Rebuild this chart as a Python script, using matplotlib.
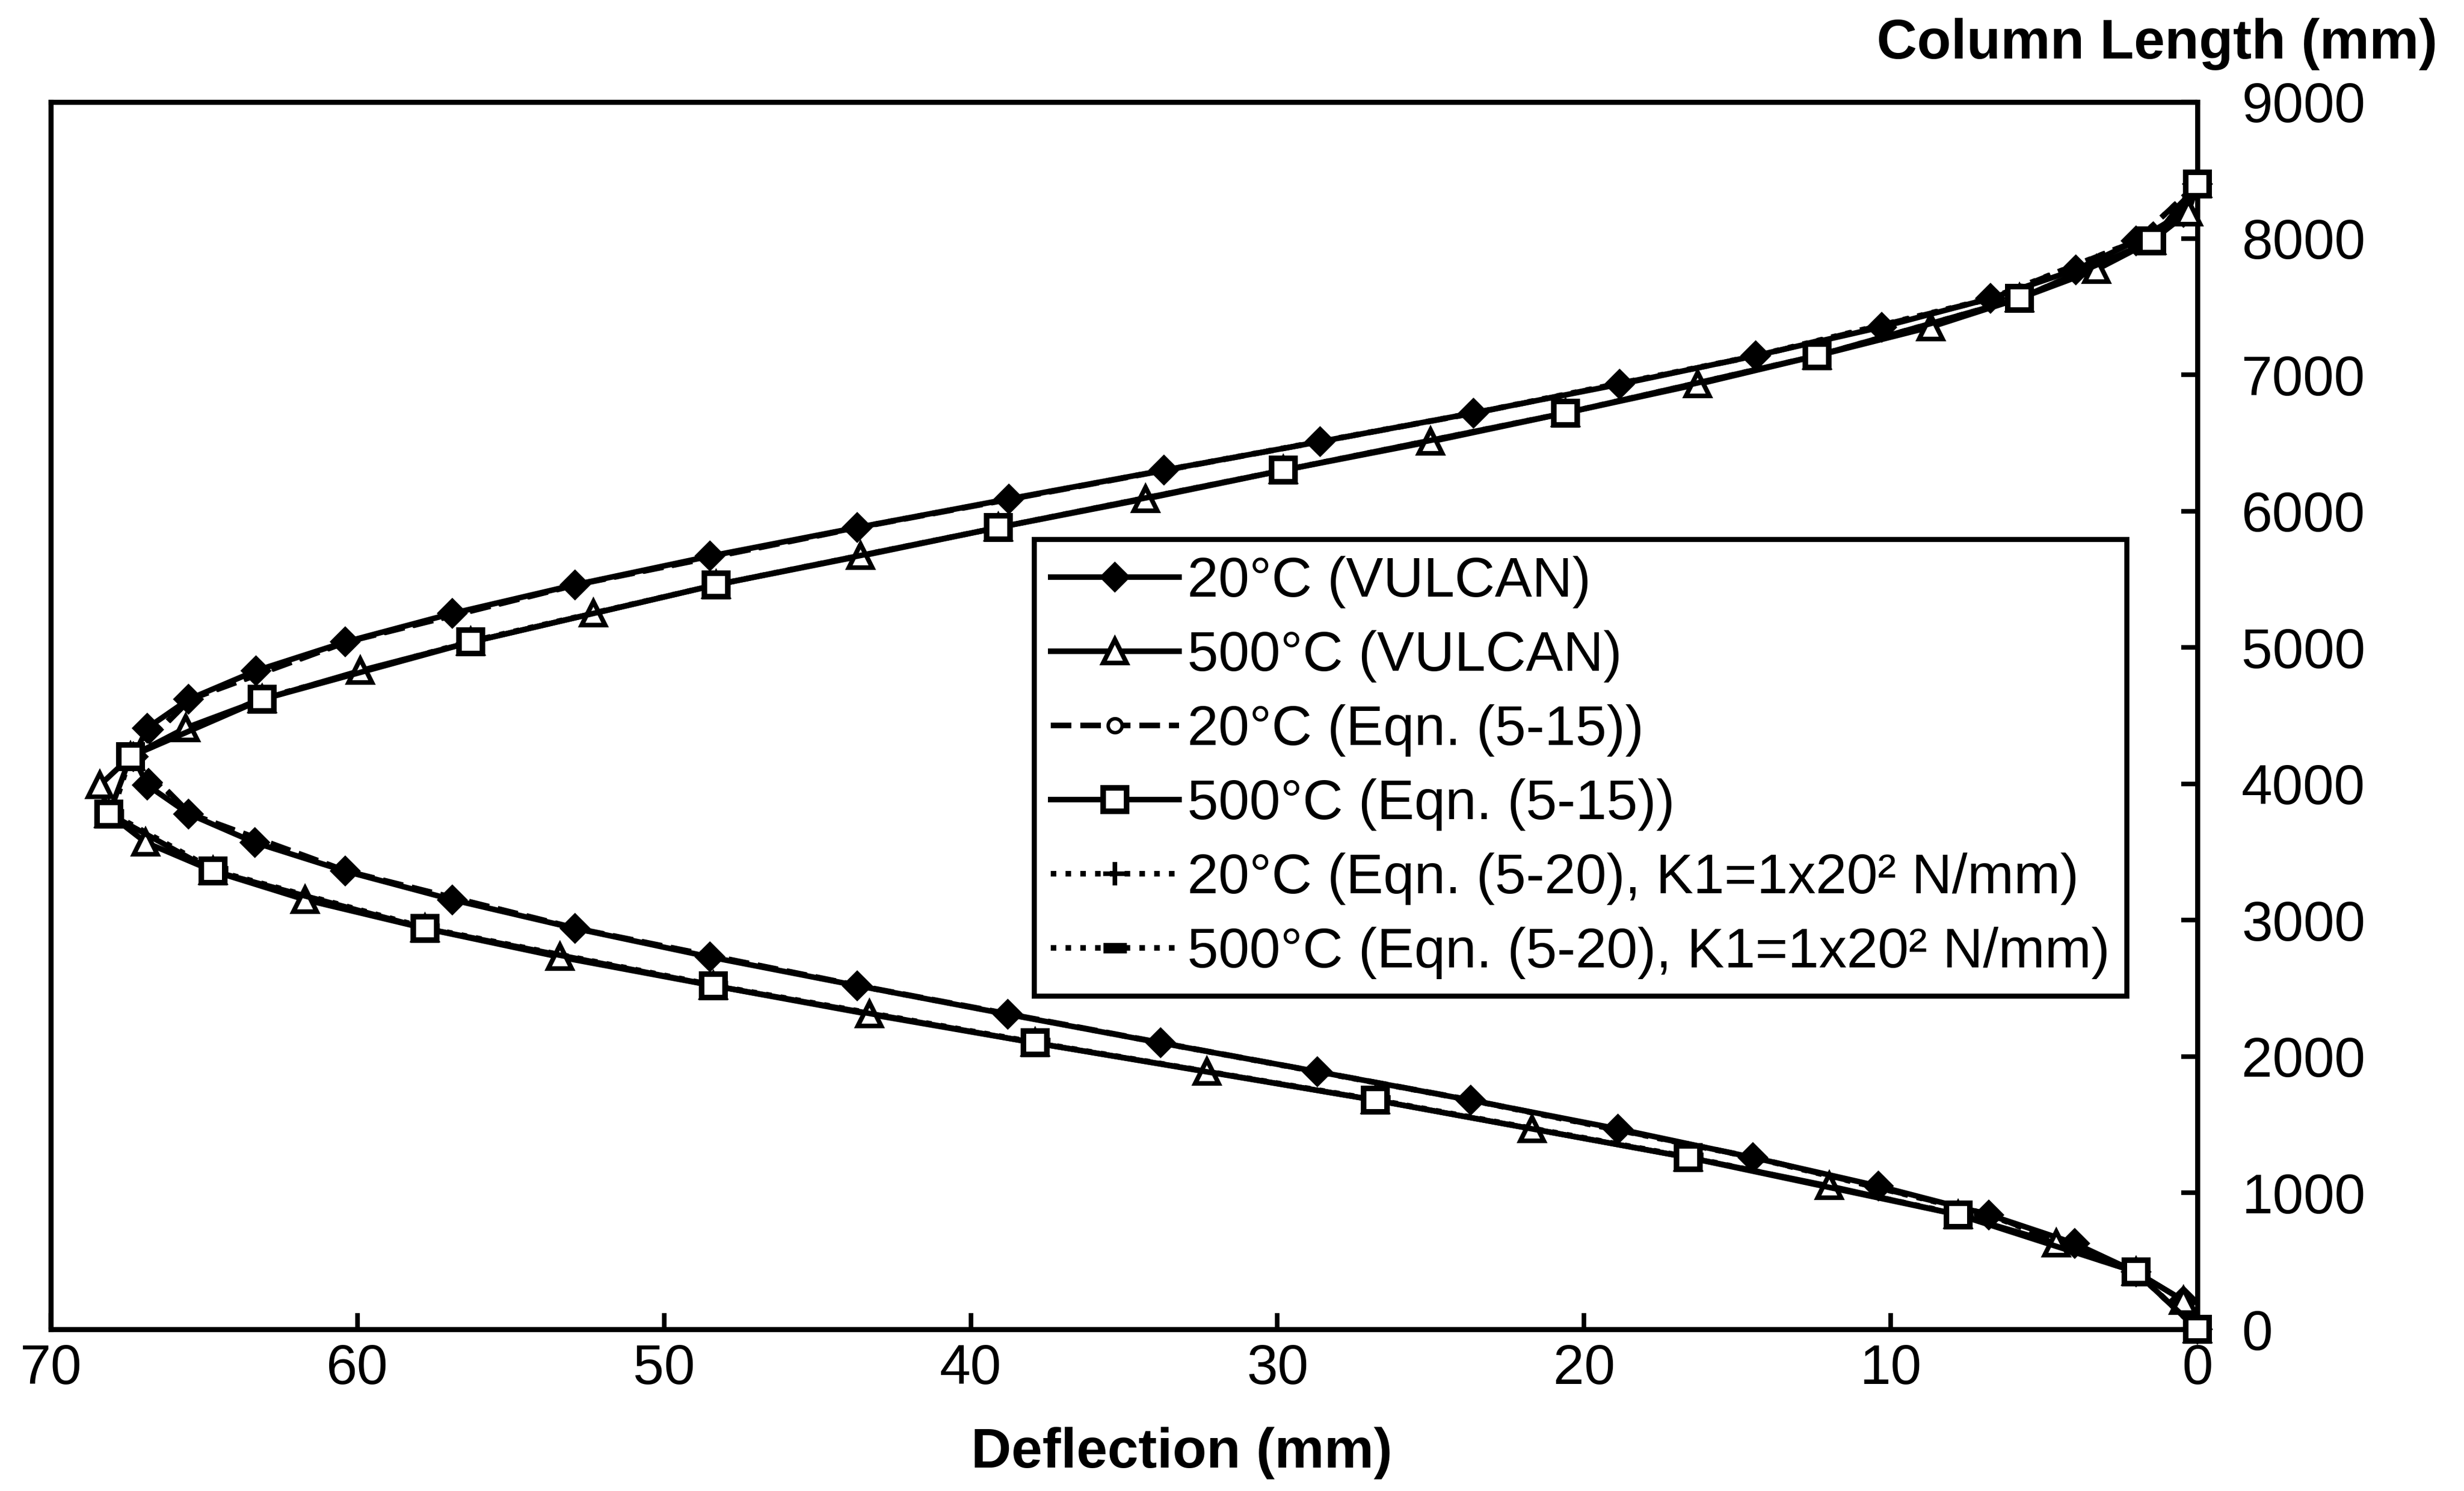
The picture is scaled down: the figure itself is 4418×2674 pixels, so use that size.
import matplotlib
matplotlib.use("Agg")
import matplotlib.pyplot as plt

plt.rcParams['font.family'] = ['Liberation Sans', 'DejaVu Sans']

# Column height (mm) for the VULCAN results, one point every 210 mm
height_vulcan = [0, 210, 420, 630, 840, 1050, 1260, 1470, 1680, 1890, 2100,
                 2310, 2520, 2730, 2940, 3150, 3360, 3570, 3780, 3990, 4200,
                 4410, 4620, 4830, 5040, 5250, 5460, 5670, 5880, 6090, 6300,
                 6510, 6720, 6930, 7140, 7350, 7560, 7770, 7980, 8190, 8400]

# Lateral deflection (mm)
defl_20_vulcan = [0, 0.45, 2.0, 4.0, 6.8, 10.4, 14.5, 18.9, 23.7, 28.7, 33.8,
                  38.8, 43.7, 48.5, 52.9, 56.9, 60.4, 63.35, 65.5, 66.85, 67.3,
                  66.85, 65.5, 63.3, 60.4, 56.9, 52.9, 48.5, 43.7, 38.75, 33.7,
                  28.6, 23.6, 18.85, 14.4, 10.3, 6.75, 3.97, 2.0, 0.45, 0]

defl_500_vulcan = [0, 0.45, 2.0, 4.6, 7.8, 12.0, 16.6, 21.7, 26.8, 32.3, 37.9,
                   43.3, 48.4, 53.4, 57.8, 61.7, 64.7, 66.9, 68.1, 68.4, 67.4,
                   65.6, 63.1, 59.9, 56.3, 52.3, 48.3, 43.6, 39.1, 34.3, 29.8,
                   25.0, 20.6, 16.3, 12.4, 8.7, 5.8, 3.3, 1.5, 0.3, 0]

# Closed-form results, one point every 420 mm
height_eqn = [0, 420, 840, 1260, 1680, 2100, 2520, 2940, 3360, 3780, 4200,
              4620, 5040, 5460, 5880, 6300, 6720, 7140, 7560, 7980, 8400]

defl_20_eqn15 = [0, 2.0, 6.75, 14.45, 23.65, 33.75, 43.65, 52.85, 60.35, 65.45, 67.3,
                 65.45, 60.35, 52.85, 43.65, 33.65, 23.55, 14.35, 6.7, 2.0, 0]

defl_500_eqn15 = [0, 2.0, 7.8, 16.6, 26.8, 37.9, 48.4, 57.8, 64.7, 68.1, 67.4,
                  63.1, 56.3, 48.3, 39.1, 29.8, 20.6, 12.4, 5.8, 1.5, 0]

defl_20_eqn20 = [0, 2.0, 6.8, 14.5, 23.7, 33.8, 43.7, 52.9, 60.4, 65.5, 67.3,
                 65.5, 60.4, 52.9, 43.7, 33.7, 23.6, 14.4, 6.75, 2.0, 0]

defl_500_eqn20 = [0, 2.0, 7.7, 16.5, 26.7, 37.8, 48.3, 57.7, 64.6, 68.0, 67.4,
                  63.2, 56.4, 48.3, 39.1, 29.8, 20.6, 12.4, 5.8, 1.5, 0]

labels = ["20°C (VULCAN)",
          "500°C (VULCAN)",
          "20°C (Eqn. (5-15))",
          "500°C (Eqn. (5-15))",
          "20°C (Eqn. (5-20), K1=1x20² N/mm)",
          "500°C (Eqn. (5-20), K1=1x20² N/mm)"]

W, H = 4418, 2674
fig = plt.figure(figsize=(W / 300, H / 300), dpi=300)
ax = fig.add_axes([91 / W, 1 - 2384 / H, (3940 - 91) / W, (2384 - 183) / H])

lw = 2.4
common = dict(color='black', clip_on=False, linewidth=lw)

l5, = ax.plot(defl_20_eqn20, height_eqn, linestyle=':', marker='+',
              markersize=10, markeredgewidth=2, zorder=2, **common)
l6, = ax.plot(defl_500_eqn20, height_eqn, linestyle=':', marker='_',
              markersize=10, markeredgewidth=4.5, zorder=2, **common)
l3, = ax.plot(defl_20_eqn15, height_eqn, linestyle='--', marker='o',
              markersize=6, markerfacecolor='white', markeredgewidth=1.5,
              zorder=2.5, **common)
l1, = ax.plot(defl_20_vulcan, height_vulcan, linestyle='-', marker='D',
              markersize=8.5, markerfacecolor='black', zorder=3, **common)
l2, = ax.plot(defl_500_vulcan, height_vulcan, linestyle='-', marker='^',
              markersize=10, markerfacecolor='white', markeredgewidth=2,
              zorder=3, **common)
l4, = ax.plot(defl_500_eqn15, height_eqn, linestyle='-', marker='s',
              markersize=10, markerfacecolor='white', markeredgewidth=2.4,
              zorder=3.2, **common)

ax.set_xlim(70, 0)
ax.set_ylim(0, 9000)
ax.set_xticks([70, 60, 50, 40, 30, 20, 10, 0])
ax.set_yticks(range(0, 9001, 1000))
ax.yaxis.tick_right()
ax.tick_params(axis='both', direction='in', length=7, width=2,
               labelsize=24, color='black')
ax.tick_params(axis='x', pad=6)
ax.tick_params(axis='y', pad=19)
for sp in ax.spines.values():
    sp.set_linewidth(2.2)

leg = ax.legend([l1, l2, l3, l4, l5, l6], labels, loc='upper left',
                bbox_to_anchor=(0.458, 0.644), fontsize=24, numpoints=1,
                handlelength=2.3, handletextpad=0.15, borderpad=0.3,
                labelspacing=0.39, borderaxespad=0, fancybox=False,
                framealpha=1, edgecolor='black')
leg.get_frame().set_linewidth(2.2)

fig.text(2119 / W, 1 - 2606 / H, "Deflection (mm)", fontsize=24,
         fontweight='bold', ha='center', va='center')
fig.text(3868 / W, 1 - 79 / H, "Column Length (mm)", fontsize=24,
         fontweight='bold', ha='center', va='center')

fig.savefig("out.png", dpi=300, facecolor='white')
